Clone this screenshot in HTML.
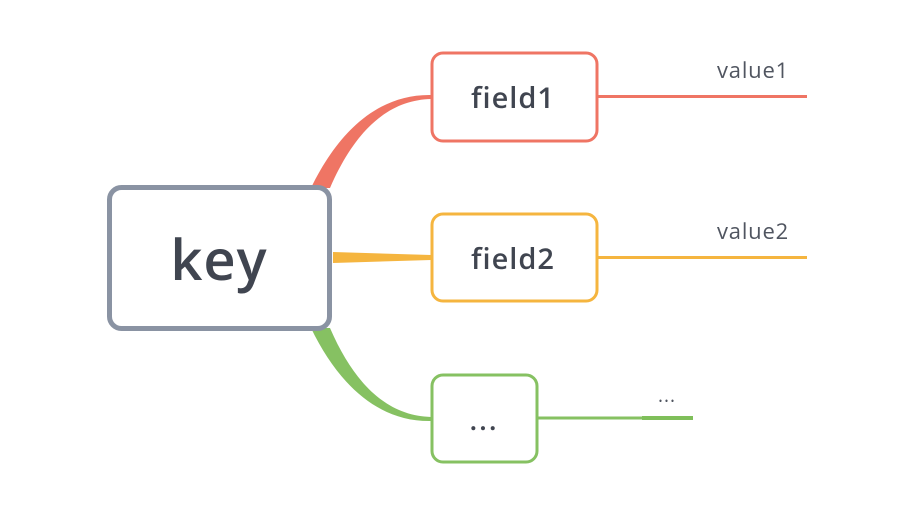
<!DOCTYPE html>
<html><head><style>
html,body{margin:0;padding:0;background:#fff;}
svg{display:block;}
text{font-family:"Open Sans","Liberation Sans",sans-serif;}
</style></head><body>
<svg width="912" height="508" viewBox="0 0 912 508" xmlns="http://www.w3.org/2000/svg">
<rect width="912" height="508" fill="#fff"/>
<path d="M311,188 C338,132 378,94 431,95 L431,99 C390,100 356,128 330,188 Z" fill="#ef7564"/>
<path d="M333,252 L431,255 L431,260 L333,263 Z" fill="#f5b53f"/>
<path d="M311,328 C338,384 378,422 431,421 L431,417 C390,416 356,388 330,328 Z" fill="#86c162"/>
<line x1="598" y1="96.5" x2="807" y2="96.5" stroke="#ef7564" stroke-width="3"/>
<line x1="598" y1="257.5" x2="807" y2="257.5" stroke="#f5b53f" stroke-width="3"/>
<line x1="538" y1="418" x2="643" y2="418" stroke="#86c162" stroke-width="3"/>
<line x1="642" y1="418" x2="693" y2="418" stroke="#7fbf5a" stroke-width="4"/>
<rect x="109.5" y="187.5" width="220" height="141" rx="12" fill="#fff" stroke="#8a93a3" stroke-width="5"/>
<text x="219" y="280" font-size="56" font-weight="600" fill="#404550" text-anchor="middle" letter-spacing="1">key</text>
<rect x="432" y="53" width="165" height="88" rx="11" fill="#fff" stroke="#ef7564" stroke-width="3"/>
<text x="513" y="108" font-size="29" font-weight="600" fill="#404550" text-anchor="middle" letter-spacing="1">field1</text>
<rect x="432" y="214" width="165" height="87" rx="11" fill="#fff" stroke="#f5b53f" stroke-width="3"/>
<text x="513" y="269" font-size="29" font-weight="600" fill="#404550" text-anchor="middle" letter-spacing="1">field2</text>
<rect x="432" y="375" width="105" height="87" rx="11" fill="#fff" stroke="#86c162" stroke-width="3"/>
<text x="484" y="430" font-size="28" font-weight="600" fill="#404550" text-anchor="middle" letter-spacing="2">...</text>
<text x="717" y="78" font-size="22" fill="#505560" letter-spacing="0.8">value1</text>
<text x="717" y="239" font-size="22" fill="#505560" letter-spacing="0.8">value2</text>
<text x="667" y="402" font-size="19" fill="#505560" text-anchor="middle" letter-spacing="1">...</text>
</svg>
</body></html>
